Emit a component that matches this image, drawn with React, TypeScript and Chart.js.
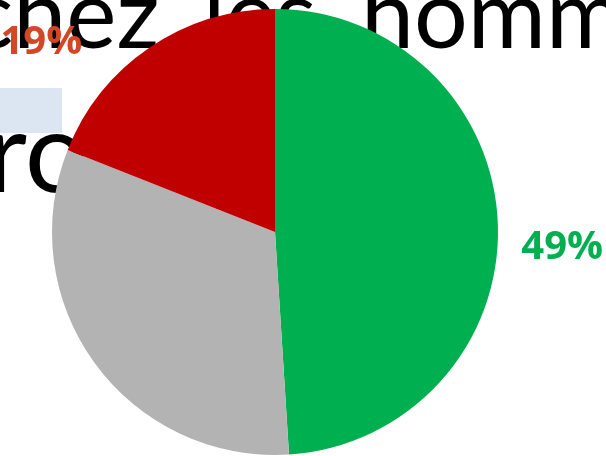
import React, { useEffect, useRef } from "react";
import { Chart, registerables } from "chart.js";

Chart.register(...registerables);

const categories = ["Oui", "Non concerné", "Non"];
const values = [49, 32, 19];
const sliceColors = ["#00B050", "#B3B3B3", "#C00000"];
const labelColors = ["#00B050", "", "#D24726"];
const labelShown = [true, false, true];

const titleWords = ["chez", "les", "hommes"];
const secondLine = "ro";

const LABEL_FONT = "bold 40px 'Open Sans', 'Noto Sans', sans-serif";

const labelPlugin = {
  id: "outsideLabels",
  afterDatasetsDraw(chart: any, _args: any, opts: any) {
    const ctx = chart.ctx;
    const meta = chart.getDatasetMeta(0);
    const ds = chart.data.datasets[0];
    meta.data.forEach((arc: any, i: number) => {
      if (!labelShown[i]) return;
      const p = arc.getProps(["x", "y", "startAngle", "endAngle", "outerRadius"], true);
      const mid = (p.startAngle + p.endAngle) / 2 + (opts.angleShift[i] * Math.PI) / 180;
      const r = p.outerRadius * opts.radiusFactor[i];
      const x = p.x + Math.cos(mid) * r;
      const y = p.y + Math.sin(mid) * r;
      ctx.save();
      ctx.font = LABEL_FONT;
      ctx.fillStyle = labelColors[i];
      ctx.textAlign = "center";
      ctx.textBaseline = "middle";
      ctx.fillText(`${ds.data[i]}%`, x, y);
      ctx.restore();
    });
  },
};

export default function App() {
  const ref = useRef<HTMLCanvasElement>(null);
  useEffect(() => {
    let chart: Chart | null = null;
    let cancelled = false;
    const make = () => {
      if (cancelled || !ref.current) return;
      chart = new Chart(ref.current, {
        type: "pie",
        data: {
          labels: categories,
          datasets: [
            {
              data: values,
              backgroundColor: sliceColors,
              borderWidth: 0,
            },
          ],
        },
        options: {
          responsive: false,
          animation: false,
          layout: { padding: { left: 52, right: 108, top: 9, bottom: 1 } },
          plugins: {
            legend: { display: false },
            tooltip: { enabled: false },
            outsideLabels: { angleShift: [5, 0, -16.7], radiusFactor: [1.29, 0, 1.35] },
          } as any,
        },
        plugins: [labelPlugin],
      });
    };
    const fonts: any = (document as any).fonts;
    if (fonts && fonts.load) {
      fonts.load(LABEL_FONT, "49%").then(make, make);
    } else {
      make();
    }
    return () => {
      cancelled = true;
      if (chart) chart.destroy();
    };
  }, []);

  const wordLeft = [-32, 203, 361];
  const textStyle: React.CSSProperties = {
    position: "absolute",
    top: -46,
    fontFamily: "Lato, sans-serif",
    fontSize: 95,
    whiteSpace: "nowrap",
    color: "#000",
  };

  return (
    <div
      style={{
        position: "fixed",
        left: 0,
        top: 0,
        width: 606,
        height: 456,
        overflow: "hidden",
        background: "#ffffff",
      }}
    >
      <div
        style={{
          position: "absolute",
          left: 0,
          top: 88,
          width: 62,
          height: 45,
          background: "#DCE6F2",
        }}
      />
      {titleWords.map((w, i) => (
        <span key={w} style={{ ...textStyle, left: wordLeft[i] }}>
          {w}
        </span>
      ))}
      <div
        style={{
          position: "absolute",
          left: -14,
          top: 80,
          fontFamily: "Lato, sans-serif",
          fontSize: 113,
          whiteSpace: "nowrap",
          color: "#000",
        }}
      >
        {secondLine}
      </div>
      <canvas
        ref={ref}
        width={606}
        height={456}
        style={{ position: "absolute", left: 0, top: 0 }}
      />
    </div>
  );
}
